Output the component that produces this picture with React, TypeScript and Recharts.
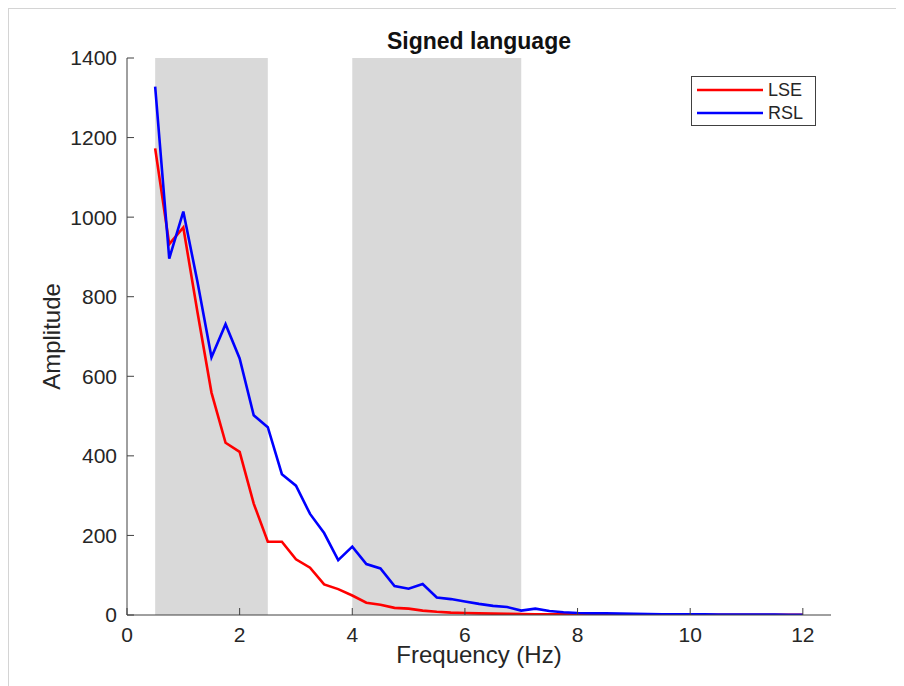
import React from 'react';
import {
  ComposedChart,
  Line,
  XAxis,
  YAxis,
  ReferenceArea,
  Legend,
  Label,
} from 'recharts';

// frequency bins (Hz)
const FREQS = [
  0.5, 0.75, 1, 1.25, 1.5, 1.75, 2, 2.25, 2.5, 2.75, 3, 3.25, 3.5, 3.75, 4, 4.25,
  4.5, 4.75, 5, 5.25, 5.5, 5.75, 6, 6.25, 6.5, 6.75, 7, 7.25, 7.5, 7.75, 8, 8.25,
  8.5, 8.75, 9, 9.25, 9.5, 9.75, 10, 10.25, 10.5, 10.75, 11, 11.25, 11.5, 11.75, 12,
];

// amplitude spectra per sign language
const LSE = [
  1173, 932, 974, 762, 559, 433, 410, 280, 184, 184, 140, 119, 77, 65, 49, 31,
  26, 18, 16, 11, 8, 6, 5, 4, 3.5, 3, 2.5, 2, 1.8, 1.5, 1.3, 1.1,
  1, 0.9, 0.8, 0.7, 0.6, 0.6, 0.5, 0.5, 0.4, 0.4, 0.4, 0.3, 0.3, 0.3, 0.3,
];
const RSL = [
  1328, 896, 1014, 838, 648, 731, 645, 502, 472, 354, 325, 254, 206, 138, 172, 128,
  117, 73, 66, 78, 44, 40, 34, 28, 23, 20, 11, 16, 10, 7, 5, 4,
  4, 3.5, 3, 2.5, 2, 2, 1.8, 1.5, 1.4, 1.2, 1.1, 1, 0.9, 0.8, 0.8,
];

// shaded frequency bands [from, to]
const BANDS = [
  [0.5, 2.5],
  [4, 7],
];

const X_TICKS = [0, 2, 4, 6, 8, 10, 12];
const Y_TICKS = [0, 200, 400, 600, 800, 1000, 1200, 1400];

const SERIES = [
  { key: 'LSE', color: '#ff0000' },
  { key: 'RSL', color: '#0000ff' },
];

const data = FREQS.map((f, i) => ({ f, LSE: LSE[i], RSL: RSL[i] }));

const FONT = 'Arial, "Liberation Sans", Helvetica, sans-serif';
const AXIS = '#404040';
const TEXT = '#262626';

const LegendBox = () => (
  <div
    style={{
      width: 123,
      height: 48,
      border: `1px solid ${AXIS}`,
      background: '#fff',
      fontFamily: FONT,
      fontSize: 18,
      color: TEXT,
      position: 'relative',
    }}
  >
    {SERIES.map((s, i) => (
      <div
        key={s.key}
        style={{ position: 'absolute', left: 5, top: 2 + i * 23, height: 22, display: 'flex', alignItems: 'center' }}
      >
        <svg width={66} height={4} style={{ marginRight: 5 }}>
          <line x1={0} y1={2} x2={66} y2={2} stroke={s.color} strokeWidth={2.5} />
        </svg>
        <span>{s.key}</span>
      </div>
    ))}
  </div>
);

export default function App() {
  return (
    <div style={{ position: 'relative', width: 896, height: 678 }}>
      <div
        style={{
          position: 'absolute',
          left: 0,
          top: 0,
          right: 0,
          bottom: 0,
          borderTop: '1px solid #d4d4d4',
          borderLeft: '1px solid #d4d4d4',
          pointerEvents: 'none',
        }}
      />
      <div
        style={{
          position: 'absolute',
          left: 119,
          width: 704,
          top: 22,
          textAlign: 'center',
          fontFamily: FONT,
          fontWeight: 'bold',
          fontSize: 23,
          lineHeight: '23px',
          color: '#111',
        }}
      >
        Signed language
      </div>
      <ComposedChart
        width={896}
        height={678}
        data={data}
        margin={{ top: 50, right: 73, left: 0, bottom: 0 }}
        style={{ fontFamily: FONT }}
      >
        {BANDS.map(([a, b]) => (
          <ReferenceArea
            key={a}
            x1={a}
            x2={b}
            y1={0}
            y2={1400}
            fill="#d9d9d9"
            fillOpacity={1}
            stroke="none"
            ifOverflow="hidden"
          />
        ))}
        <XAxis
          dataKey="f"
          type="number"
          domain={[0, 12.5]}
          ticks={X_TICKS}
          allowDataOverflow
          height={71}
          stroke={AXIS}
          tickSize={-7}
          tickMargin={19}
          tick={{ fill: TEXT, fontSize: 21 }}
        >
          <Label
            value="Frequency (Hz)"
            position="insideBottom"
            offset={23}
            style={{ fill: TEXT, fontSize: 24 }}
          />
        </XAxis>
        <YAxis
          type="number"
          domain={[0, 1400]}
          ticks={Y_TICKS}
          allowDataOverflow
          width={119}
          stroke={AXIS}
          tickSize={-7}
          tickMargin={17}
          tick={{ fill: TEXT, fontSize: 21 }}
        >
          <Label
            value="Amplitude"
            angle={-90}
            position="insideLeft"
            offset={43}
            style={{ fill: TEXT, fontSize: 24, textAnchor: 'middle' }}
          />
        </YAxis>
        <Legend
          layout="vertical"
          align="center"
          verticalAlign="middle"
          wrapperStyle={{ left: 683, top: 68, width: 125 }}
          content={() => <LegendBox />}
        />
        {SERIES.map((s) => (
          <Line
            key={s.key}
            dataKey={s.key}
            type="linear"
            stroke={s.color}
            strokeWidth={2.6}
            dot={false}
            activeDot={false}
            isAnimationActive={false}
          />
        ))}
      </ComposedChart>
    </div>
  );
}
